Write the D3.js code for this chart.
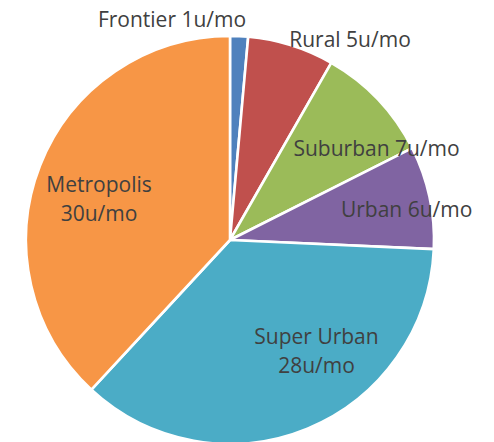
<!DOCTYPE html>
<html>
<head>
<meta charset="utf-8">
<script src="https://cdn.jsdelivr.net/npm/d3@7"></script>
<style>
  html, body { margin: 0; padding: 0; background: #ffffff; }
  svg { display: block; }
</style>
</head>
<body>
<svg id="chart" width="494" height="442"></svg>
<script>
// ---- data ----
const categories = ["Frontier", "Rural", "Suburban", "Urban", "Super Urban", "Metropolis"];
const values = [1.1, 5.3, 7.2, 6.3, 28, 29.5];
const valueLabels = ["1u/mo", "5u/mo", "7u/mo", "6u/mo", "28u/mo", "30u/mo"];
const colors = ["#4F81BD", "#C0504D", "#9BBB59", "#8064A2", "#4BACC6", "#F79646"];

// ---- layout ----
const W = 494, H = 442;
const cx = 230, cy = 240, R = 204;
// label anchor in polar terms (degrees clockwise from top, radius as fraction of R), and line breaks
const labelLayout = [
  { a: -14.74, k: 1.118, lines: 1 },
  { a: 30.86,  k: 1.147, lines: 1 },
  { a: 58.0,   k: 0.847, lines: 1 },
  { a: 80.1,   k: 0.879, lines: 1 },
  { a: 141.95, k: 0.688, lines: 2 },
  { a: 287.46, k: 0.673, lines: 2 }
];

const svg = d3.select("#chart");
const g = svg.append("g").attr("transform", `translate(${cx},${cy})`);

const pie = d3.pie().sort(null).value(d => d.v).startAngle(0).endAngle(2 * Math.PI);
const arc = d3.arc().innerRadius(0).outerRadius(R);

const data = categories.map((c, i) => ({ c, v: values[i], lab: valueLabels[i], col: colors[i], lay: labelLayout[i] }));
const arcs = pie(data);

g.selectAll("path.slice")
  .data(arcs)
  .join("path")
  .attr("class", "slice")
  .attr("d", arc)
  .attr("fill", d => d.data.col)
  .attr("stroke", "#ffffff")
  .attr("stroke-width", 2.6)
  .attr("stroke-linejoin", "round");

const lineH = 29;
const labels = g.selectAll("text.lbl")
  .data(arcs)
  .join("text")
  .attr("class", "lbl")
  .attr("text-anchor", "middle")
  .attr("font-family", "'Open Sans', 'Noto Sans', sans-serif")
  .attr("font-size", 21)
  .attr("fill", "#404040");

labels.each(function(d) {
  const lay = d.data.lay;
  const ang = lay.a * Math.PI / 180;
  const r = lay.k * R;
  const x = r * Math.sin(ang);
  const y = -r * Math.cos(ang);
  const parts = lay.lines === 2 ? [d.data.c, d.data.lab] : [d.data.c + " " + d.data.lab];
  const t = d3.select(this);
  parts.forEach((p, i) => {
    t.append("tspan")
      .attr("x", x)
      .attr("y", y + 7.5 + (i - (parts.length - 1) / 2) * lineH)
      .text(p);
  });
});
</script>
</body>
</html>
